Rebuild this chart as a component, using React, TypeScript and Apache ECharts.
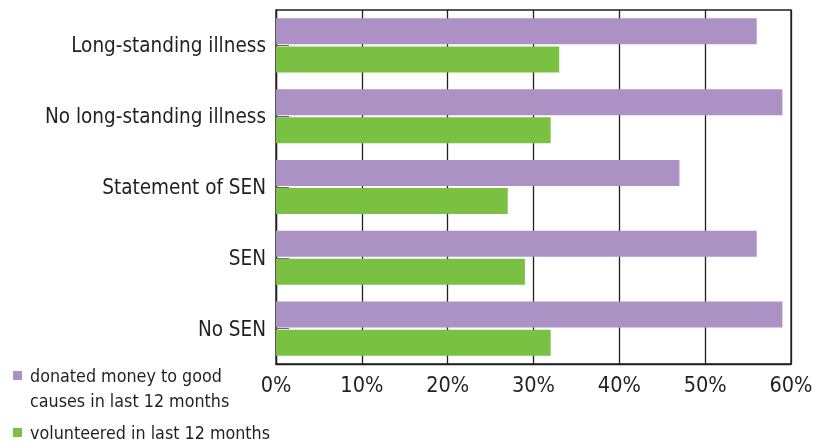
import React, { useEffect, useRef } from "react";
import * as echarts from "echarts";

const categories = [
  "Long-standing illness",
  "No long-standing illness",
  "Statement of SEN",
  "SEN",
  "No SEN",
];
const donatedName = "donated money to good\ncauses in last 12 months";
const volunteeredName = "volunteered in last 12 months";
const donated = [56, 59, 47, 56, 59];
const volunteered = [33, 32, 27, 29, 32];
const xTicks = { min: 0, max: 60, interval: 10 };

const PURPLE = "#AC91C5";
const GREEN = "#7AC143";
const INK = "#231F20";
const FONT = "'Liberation Sans Narrow', 'DejaVu Sans Condensed', 'Liberation Sans', sans-serif";

export default function App() {
  const ref = useRef<HTMLDivElement>(null);
  useEffect(() => {
    if (!ref.current) return;
    const chart = echarts.init(ref.current, null, { renderer: "svg" });
    chart.setOption({
      animation: false,
      textStyle: { fontFamily: FONT, color: INK },
      grid: {
        left: 276,
        top: 10,
        width: 515,
        height: 354,
        show: true,
        borderColor: INK,
        borderWidth: 1.3,
        backgroundColor: "transparent",
      },
      xAxis: {
        type: "value",
        min: xTicks.min,
        max: xTicks.max,
        interval: xTicks.interval,
        axisLine: { show: true, lineStyle: { color: INK, width: 1.3 } },
        axisTick: { show: false },
        splitLine: { show: true, lineStyle: { color: INK, width: 1.3 } },
        axisLabel: {
          formatter: "{value}%",
          color: INK,
          fontFamily: FONT,
          fontSize: 21.5,
          margin: 9,
        },
      },
      yAxis: {
        type: "category",
        data: categories,
        inverse: true,
        axisLine: { show: true, lineStyle: { color: INK, width: 1.3 } },
        axisTick: {
          show: true,
          inside: true,
          alignWithLabel: true,
          length: 13,
          lineStyle: { color: "#666", width: 1 },
        },
        axisLabel: { color: INK, fontFamily: FONT, fontSize: 20.5, margin: 10 },
      },
      series: [
        {
          name: donatedName,
          type: "bar",
          data: donated,
          itemStyle: { color: PURPLE },
          barWidth: 26,
          barGap: "8%",
          z: 3,
        },
        {
          name: volunteeredName,
          type: "bar",
          data: volunteered,
          itemStyle: { color: GREEN },
          barWidth: 26,
          barGap: "8%",
          z: 3,
        },
      ],
      graphic: [
        { type: "rect", shape: { x: 13, y: 371, width: 9, height: 9 }, style: { fill: PURPLE } },
        {
          type: "text",
          x: 30,
          y: 363,
          style: {
            text: donatedName,
            fontFamily: FONT,
            fontSize: 17.75,
            lineHeight: 25,
            fill: INK,
            verticalAlign: "top",
          },
        },
        { type: "rect", shape: { x: 13, y: 428, width: 9, height: 9 }, style: { fill: GREEN } },
        {
          type: "text",
          x: 30,
          y: 420,
          style: {
            text: volunteeredName,
            fontFamily: FONT,
            fontSize: 17.75,
            lineHeight: 25,
            fill: INK,
            verticalAlign: "top",
          },
        },
      ],
    });
    return () => chart.dispose();
  }, []);
  return (
    <div
      ref={ref}
      style={{ position: "fixed", left: 0, top: 0, width: 821, height: 445 }}
    />
  );
}
